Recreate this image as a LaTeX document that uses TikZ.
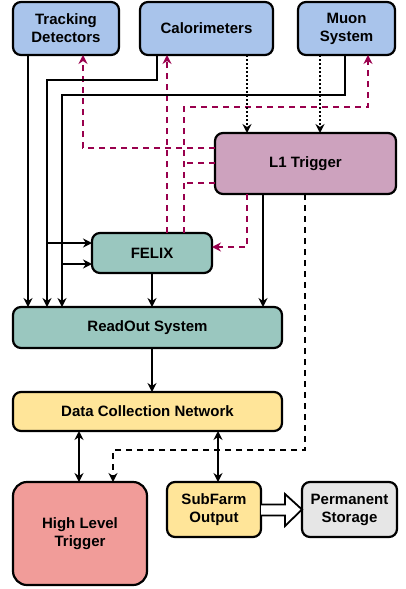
\documentclass[tikz,border=0pt]{standalone}
\usepackage{fontspec}
\setmainfont{Liberation Sans}
\usetikzlibrary{arrows.meta}
\definecolor{cblue}{HTML}{A9C4EB}
\definecolor{cpurple}{HTML}{CDA2BE}
\definecolor{cteal}{HTML}{9AC7BF}
\definecolor{cyellow}{HTML}{FFE599}
\definecolor{cred}{HTML}{F19C99}
\definecolor{cgray}{HTML}{E6E6E6}
\definecolor{cmag}{HTML}{99004D}
\tikzset{
  box/.style={draw=black, line width=2.2pt, rounded corners=8pt, align=center,
    font=\fontsize{15}{18}\selectfont\bfseries, inner sep=0pt, outer sep=0pt},
  arr/.style={line width=2pt, -{Stealth[length=9pt,width=9pt]}},
  darr/.style={line width=2pt, {Stealth[length=9pt,width=9pt]}-{Stealth[length=9pt,width=9pt]}},
  dotarr/.style={line width=2pt, dash pattern=on 2pt off 2pt, -{Stealth[length=9pt,width=9pt]}},
  magline/.style={draw=cmag, line width=2pt, dash pattern=on 6pt off 5pt},
  magarr/.style={magline, -{Stealth[length=9pt,width=9pt]}, cmag},
  blkdash/.style={line width=2pt, dash pattern=on 6pt off 5pt, -{Stealth[length=9pt,width=9pt]}},
}
\begin{document}
\begin{tikzpicture}[x=1pt, y=-1pt]
\useasboundingbox (0,0) rectangle (405,589);
% nodes
\node[box, fill=cblue, minimum width=106pt, minimum height=53pt] (td) at (66,28.5) {Tracking\\Detectors};
\node[box, fill=cblue, minimum width=133pt, minimum height=53pt] (cal) at (206.5,28.5) {Calorimeters};
\node[box, fill=cblue, minimum width=97pt, minimum height=53pt] (muon) at (346.5,28.5) {Muon\\System};
\node[box, fill=cpurple, minimum width=181pt, minimum height=61pt] (l1) at (305.5,163.5) {L1 Trigger};
\node[box, fill=cteal, minimum width=120pt, minimum height=40pt] (felix) at (152,253) {FELIX};
\node[box, fill=cteal, minimum width=269pt, minimum height=41pt] (ros) at (147.5,327.5) {ReadOut System};
\node[box, fill=cyellow, minimum width=269pt, minimum height=39pt] (dcn) at (147.5,411.5) {Data Collection Network};
\node[box, fill=cred, minimum width=134pt, minimum height=103pt, rounded corners=14pt] (hlt) at (80,533.5) {High Level\\Trigger};
\node[box, fill=cyellow, minimum width=94pt, minimum height=55pt] (sfo) at (214,509.5) {SubFarm\\Output};
\node[box, fill=cgray, minimum width=95pt, minimum height=55pt] (ps) at (349.5,509.5) {Permanent\\Storage};
% magenta dashed (L1 / FELIX feedback)
\draw[magarr] (l1.west |- 0,148) -| (83,0 |- td.south);
\draw[magarr] (167,0 |- felix.north) -- (167,0 |- cal.south);
\draw[magarr] (184,0 |- felix.north) |- (368,107) -- (368,0 |- muon.south);
\draw[magline] (l1.west |- 0,163) -- (184,163);
\draw[magline] (l1.west |- 0,183) -- (184,183);
\draw[magarr] (247,0 |- l1.south) |- (felix.east |- 0,247);
% detector readout
\draw[arr] (28,0 |- td.south) -- (28,0 |- ros.north);
\draw[arr] (157,0 |- cal.south) |- (47,80) -- (47,0 |- ros.north);
\draw[arr] (47,243) -- (felix.west |- 0,243);
\draw[arr] (345,0 |- muon.south) |- (62,95) -- (62,0 |- ros.north);
\draw[arr] (62,264) -- (felix.west |- 0,264);
% to L1
\draw[dotarr] (247,0 |- cal.south) -- (247,0 |- l1.north);
\draw[dotarr] (320,0 |- muon.south) -- (320,0 |- l1.north);
% L1 outputs
\draw[arr] (263,0 |- l1.south) -- (263,0 |- ros.north);
\draw[blkdash] (305,0 |- l1.south) |- (113,450) -- (113,0 |- hlt.north);
% dataflow
\draw[arr] (152,0 |- felix.south) -- (152,0 |- ros.north);
\draw[arr] (152,0 |- ros.south) -- (152,0 |- dcn.north);
\draw[darr] (79,0 |- dcn.south) -- (79,0 |- hlt.north);
\draw[darr] (218,0 |- dcn.south) -- (218,0 |- sfo.north);
% hollow arrow SFO -> storage
\draw[line width=1.8pt, fill=white, line join=miter]
  (sfo.east |- 0,504.5) -- (285,504.5) -- (285,494) -- (ps.west) -- (285,526) -- (285,515.5) -- (sfo.east |- 0,515.5);
\end{tikzpicture}
\end{document}
